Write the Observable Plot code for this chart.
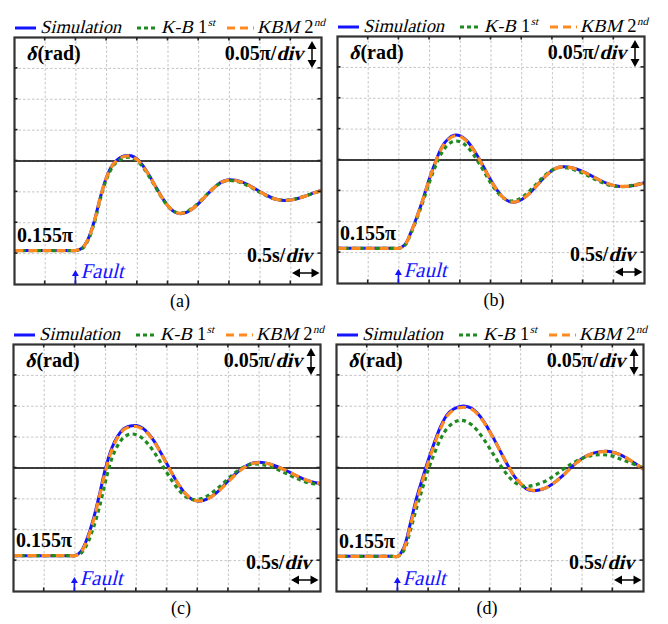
<!DOCTYPE html>
<html><head><meta charset="utf-8">
<script src="https://cdn.jsdelivr.net/npm/d3@7"></script>
<script src="https://cdn.jsdelivr.net/npm/@observablehq/plot@0.6"></script>
<style>
body{margin:0;background:#fff;}
#root{position:relative;width:668px;height:624px;overflow:hidden;background:#fff;}
</style></head><body><div id="root"></div>
<script>
// time axis (s), values in units of pi rad
const T = [0,0.9,1.0,1.1,1.2,1.3,1.4,1.5,1.6,1.7,1.8,1.9,2.0,2.1,2.2,2.3,2.4,2.5,2.6,2.7,2.8,2.9,3.0,3.1,3.2,3.3,3.4,3.5,3.6,3.7,3.8,3.9,4.0,4.1,4.2,4.3,4.4,4.5,4.6,4.7,4.8,4.9,5.0];

const simA = [.155,.155,.155,.159,.174,.203,.242,.274,.294,.304,.3085,.3085,.3028,.2912,.2757,.2584,.2414,.2272,.2179,.2147,.2167,.2226,.2313,.2417,.2521,.2611,.2672,.2697,.2689,.2661,.2616,.2561,.2502,.2446,.2401,.2371,.236,.2367,.2388,.2419,.2455,.2491,.2522];
const kbA  = [.155,.155,.155,.158,.172,.200,.239,.271,.291,.301,.3055,.3055,.300,.2888,.2737,.2569,.2405,.2268,.2183,.2157,.2180,.2240,.2325,.2425,.2524,.2608,.2664,.2684,.2674,.2644,.2600,.2546,.2490,.2438,.2398,.2372,.2364,.2372,.2392,.2421,.2455,.2489,.2518];
const kbmA = [.155,.155,.155,.159,.1735,.2025,.2415,.2735,.2935,.3033,.3076,.3076,.3020,.2905,.2752,.2581,.2413,.2273,.2182,.2151,.2170,.2229,.2315,.2418,.2520,.2609,.2669,.2693,.2685,.2657,.2613,.2558,.2500,.2445,.2401,.2372,.2362,.2369,.2389,.2420,.2455,.2490,.2520];

const simB = [.157,.157,.157,.163,.184,.210,.239,.271,.298,.321,.334,.3400,.3391,.3319,.3194,.3031,.2851,.2668,.2510,.2390,.2326,.2320,.2360,.2435,.2535,.2646,.2751,.2834,.2883,.2892,.2879,.2851,.2810,.2762,.2710,.2660,.2618,.2587,.2572,.2572,.2583,.2604,.2632];
const kbB  = [.157,.157,.157,.162,.182,.207,.235,.265,.291,.312,.325,.3305,.3295,.3227,.3109,.2956,.2788,.2619,.2483,.2384,.2338,.2345,.2392,.2471,.2571,.2675,.2769,.2840,.2877,.2877,.2860,.2827,.2784,.2735,.2685,.2639,.2601,.2578,.2570,.2574,.2588,.2610,.2638];
const kbmB = [.157,.157,.157,.163,.1835,.2095,.2385,.2705,.2972,.3198,.3328,.3388,.3380,.3309,.3186,.3024,.2846,.2664,.2508,.2390,.2327,.2322,.2362,.2437,.2536,.2646,.2750,.2832,.2880,.2890,.2877,.2849,.2808,.2761,.2710,.2660,.2619,.2588,.2573,.2573,.2584,.2605,.2632];

const simC = [.158,.158,.158,.165,.186,.217,.257,.300,.332,.352,.3640,.3680,.3687,.3647,.3555,.3418,.3247,.3064,.2881,.2716,.2583,.2497,.2464,.2478,.2522,.2593,.2690,.2795,.2893,.2975,.3040,.3081,.3092,.3082,.3058,.3022,.2978,.2929,.2878,.2832,.2793,.2765,.2750];
const kbC  = [.158,.158,.158,.162,.177,.203,.237,.279,.315,.337,.350,.3548,.3539,.3482,.3378,.3242,.3084,.2921,.2767,.2636,.2541,.2492,.2490,.2518,.2574,.2650,.2738,.2830,.2918,.2989,.3040,.3064,.3062,.3045,.3016,.2977,.2932,.2883,.2836,.2795,.2762,.2742,.2735];
const kbmC = [.158,.158,.158,.164,.184,.214,.254,.296,.329,.350,.3625,.3665,.3672,.3634,.3545,.3411,.3242,.3061,.2880,.2716,.2584,.2499,.2466,.2479,.2522,.2592,.2681,.2780,.2879,.2966,.3035,.3076,.3088,.3079,.3056,.3020,.2977,.2929,.2879,.2833,.2795,.2767,.2752];

const simD = [.157,.157,.157,.172,.209,.250,.283,.3145,.343,.368,.386,.395,.3993,.4001,.3967,.3881,.3750,.3585,.3403,.3210,.3025,.2859,.2744,.2659,.2632,.2643,.2675,.2730,.2805,.2890,.2990,.3080,.3155,.3210,.3245,.3265,.3270,.3256,.3223,.3174,.3115,.3048,.2980];
const kbD  = [.157,.157,.157,.167,.198,.234,.267,.299,.325,.348,.364,.373,.3772,.3759,.3699,.3598,.3463,.3310,.3151,.2998,.2867,.2770,.2714,.2703,.2715,.2744,.2785,.2845,.2915,.2985,.3050,.3108,.3155,.3190,.3210,.3216,.3210,.3192,.3155,.3118,.3080,.3040,.3000];
const kbmD = [.157,.157,.157,.170,.205,.245,.279,.311,.340,.365,.384,.3935,.3975,.3982,.3952,.3870,.3742,.3580,.3400,.3210,.3028,.2864,.2750,.2666,.2638,.2646,.2676,.2730,.2803,.2887,.2985,.3075,.3150,.3206,.3242,.3262,.3268,.3255,.3222,.3174,.3115,.3048,.2980];

const xGrid = [0.5,1.0,1.5,2.0,2.5,3.0,3.5,4.0,4.5];
const yGrid = [0.15,0.20,0.25,0.30,0.35,0.40,0.45];
const xDomain = [0, 5];
const yDomain = [0.10, 0.50];
const refLevel = 0.30;
const faultTime = 1.0;
const captions = ["(a)","(b)","(c)","(d)"];

const BLUE = "#1414ff", GREEN = "#1f8a1f", ORANGE = "#ff8a20";
const SERIF = "'Liberation Serif', serif";
const FW = 307, FH = 247, SW = 334, SH = 312;

const panels = [
  {sim: simA, kb: kbA, kbm: kbmA, left: 0,   top: 0,   fl: 14, ft: 37, capX: 180},
  {sim: simB, kb: kbB, kbm: kbmB, left: 334, top: 0,   fl: 3,  ft: 36, capX: 160},
  {sim: simC, kb: kbC, kbm: kbmC, left: 0,   top: 312, fl: 13, ft: 32, capX: 181},
  {sim: simD, kb: kbD, kbm: kbmD, left: 334, top: 312, fl: 2,  ft: 32, capX: 153}
];

const rows = arr => T.map((t, i) => ({t, v: arr[i]}));
const root = document.getElementById("root");

// draw a run of text pieces; italic pieces are slanted regular glyphs
function runs(g, x, y, parts, anchor) {
  const grp = g.append("g");
  let cx = 0;
  parts.forEach(pt => {
    const el = grp.append("text")
      .attr("font-size", pt.size)
      .attr("font-weight", pt.bold ? "bold" : "normal")
      .attr("fill", pt.fill || "#000")
      .attr("text-anchor", "start")
      .style("font-family", SERIF)
      .style("font-style", "normal")
      .text(pt.t);
    const w = el.node().getComputedTextLength();
    cx += pt.gapBefore || 0;
    const dy = pt.dy || 0;
    el.attr("transform", pt.italic ? `translate(${cx},${dy}) skewX(-14)` : `translate(${cx},${dy})`);
    cx += w;
  });
  const x0 = anchor === "end" ? x - cx : anchor === "middle" ? x - cx / 2 : x;
  grp.attr("transform", `translate(${x0},${y})`);
  return grp;
}

panels.forEach((p, k) => {
  const svgEl = Plot.plot({
    width: SW, height: SH,
    marginLeft: p.fl, marginTop: p.ft,
    marginRight: SW - p.fl - FW, marginBottom: SH - p.ft - FH,
    x: {domain: xDomain, axis: null},
    y: {domain: yDomain, axis: null},
    style: {background: "transparent", overflow: "visible"},
    marks: [
      Plot.ruleX(xGrid, {stroke: "#c4c4c4", strokeDasharray: "2.5,2", strokeWidth: 1}),
      Plot.ruleY(yGrid, {stroke: "#c4c4c4", strokeDasharray: "2.5,2", strokeWidth: 1}),
      Plot.ruleY([refLevel], {stroke: "#000", strokeWidth: 1.6}),
      Plot.line(rows(p.sim), {x: "t", y: "v", stroke: BLUE, strokeWidth: 3, curve: "catmull-rom", strokeLinecap: "butt"}),
      Plot.line(rows(p.kb), {x: "t", y: "v", stroke: GREEN, strokeWidth: 3.2, strokeDasharray: "4,3.5", curve: "catmull-rom", strokeLinecap: "butt"}),
      Plot.line(rows(p.kbm), {x: "t", y: "v", stroke: ORANGE, strokeWidth: 3.2, strokeDasharray: "9,5", curve: "catmull-rom", strokeLinecap: "butt"}),
      Plot.frame({stroke: "#333", strokeWidth: 2.2})
    ]
  });
  svgEl.style.position = "absolute";
  svgEl.style.left = p.left + "px";
  svgEl.style.top = p.top + "px";
  root.appendChild(svgEl);

  const xs = svgEl.scale("x"), ys = svgEl.scale("y");
  const fl = p.fl, ft = p.ft, fr = fl + FW, fb = ft + FH;
  const svg = d3.select(svgEl);
  const g = svg.append("g").attr("text-anchor", "start").attr("fill", "#000");

  // frame ticks
  xGrid.forEach(x => {
    const px = xs.apply(x);
    g.append("line").attr("x1", px).attr("x2", px).attr("y1", fb).attr("y2", fb - 3.5).attr("stroke", "#222").attr("stroke-width", 1.6);
    g.append("line").attr("x1", px).attr("x2", px).attr("y1", ft).attr("y2", ft + 3.5).attr("stroke", "#222").attr("stroke-width", 1.6);
  });
  yGrid.forEach(y => {
    const py = ys.apply(y);
    g.append("line").attr("y1", py).attr("y2", py).attr("x1", fl).attr("x2", fl + 3.5).attr("stroke", "#222").attr("stroke-width", 1.6);
    g.append("line").attr("y1", py).attr("y2", py).attr("x1", fr).attr("x2", fr - 3.5).attr("stroke", "#222").attr("stroke-width", 1.6);
  });

  // legend
  const ly = ft - 9, lb = ft - 4, LS = 18.5;
  g.append("line").attr("x1", fl + 1).attr("x2", fl + 22).attr("y1", ly).attr("y2", ly).attr("stroke", BLUE).attr("stroke-width", 3);
  runs(g, fl + 26, lb, [{t: "Simulation", size: LS, italic: true}]);
  g.append("line").attr("x1", fl + 123).attr("x2", fl + 144).attr("y1", ly).attr("y2", ly).attr("stroke", GREEN).attr("stroke-width", 3).attr("stroke-dasharray", "4,3");
  runs(g, fl + 147, lb, [
    {t: "K-B", size: LS, italic: true},
    {t: "1", size: LS, gapBefore: 5},
    {t: "st", size: 11, italic: true, dy: -7, gapBefore: 0.5}
  ]);
  g.append("line").attr("x1", fl + 213).attr("x2", fl + 240).attr("y1", ly).attr("y2", ly).attr("stroke", ORANGE).attr("stroke-width", 3).attr("stroke-dasharray", "8,5");
  runs(g, fl + 243, lb, [
    {t: "KBM", size: LS, italic: true},
    {t: "2", size: LS, gapBefore: 5},
    {t: "nd", size: 11, italic: true, dy: -7, gapBefore: 0.5}
  ]);

  // delta(rad)
  runs(g, fl + 12, ft + 23, [
    {t: "\u03b4", size: 20, bold: true, italic: true},
    {t: "(rad)", size: 20, bold: true, gapBefore: 1}
  ]);

  // 0.05pi/div
  runs(g, fr - 18, ft + 23, [
    {t: "0.05\u03c0/", size: 20, bold: true},
    {t: "div", size: 20, bold: true, italic: true}
  ], "end");

  // vertical double arrow
  const ax = fr - 9, aT = ft + 4, aB = ft + 31;
  g.append("line").attr("x1", ax).attr("x2", ax).attr("y1", aT + 6).attr("y2", aB - 6).attr("stroke", "#000").attr("stroke-width", 1.5);
  g.append("path").attr("d", `M${ax},${aT} L${ax - 4.5},${aT + 8} L${ax + 4.5},${aT + 8} Z`).attr("fill", "#000");
  g.append("path").attr("d", `M${ax},${aB} L${ax - 4.5},${aB - 8} L${ax + 4.5},${aB - 8} Z`).attr("fill", "#000");

  // initial value label
  runs(g, fl + 3, ys.apply(p.sim[0]) - 8, [{t: "0.155\u03c0", size: 20, bold: true}]);

  // 0.5s/div
  runs(g, fr - 9, ft + 225, [
    {t: "0.5s/", size: 20, bold: true},
    {t: "div", size: 20, bold: true, italic: true}
  ], "end");

  // horizontal double arrow
  const hy = fb - 11, hL = fr - 29, hR = fr - 1.5;
  g.append("line").attr("x1", hL + 6).attr("x2", hR - 6).attr("y1", hy).attr("y2", hy).attr("stroke", "#000").attr("stroke-width", 1.5);
  g.append("path").attr("d", `M${hL},${hy} L${hL + 8},${hy - 4.5} L${hL + 8},${hy + 4.5} Z`).attr("fill", "#000");
  g.append("path").attr("d", `M${hR},${hy} L${hR - 8},${hy - 4.5} L${hR - 8},${hy + 4.5} Z`).attr("fill", "#000");

  // Fault arrow
  const fx = xs.apply(faultTime), fTop = fb - 14;
  g.append("line").attr("x1", fx).attr("x2", fx).attr("y1", fb).attr("y2", fTop + 5).attr("stroke", BLUE).attr("stroke-width", 1.6);
  g.append("path").attr("d", `M${fx},${fTop} L${fx - 3.5},${fTop + 6} L${fx + 3.5},${fTop + 6} Z`).attr("fill", BLUE);
  runs(g, fx + 5, fb - 6, [{t: "Fault", size: 21, italic: true, fill: BLUE}]);

  // caption
  runs(g, p.capX, ft + 270, [{t: captions[k], size: 18}], "middle");
});
</script>
</body></html>
